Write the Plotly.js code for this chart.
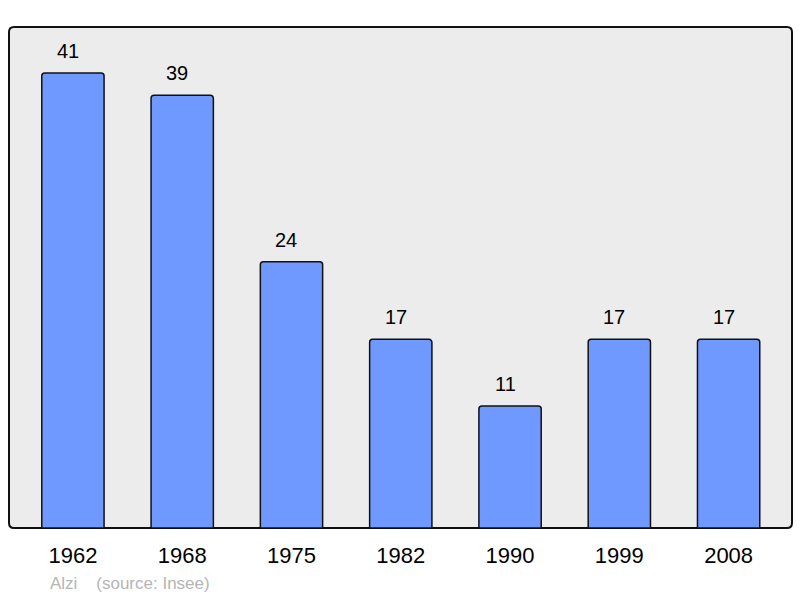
<!DOCTYPE html>
<html><head><meta charset="utf-8">
<script src="https://cdn.plot.ly/plotly-3.0.1.min.js"></script>
<style>body{margin:0;background:#fff}#c{width:800px;height:598px}</style>
</head><body><div id="c"></div>
<script>
const years = ["1962","1968","1975","1982","1990","1999","2008"];
const population = [41,39,24,17,11,17,17];
const footer = "Alzi&nbsp;&nbsp;&nbsp;&nbsp;(source: Insee)";

const trace = {
  type: 'bar', x: years, y: population, width: 0.57,
  marker: {color: '#7099ff', line: {color: '#111', width: 1.5}, cornerradius: 3},
  hoverinfo: 'none'
};
const annotations = years.map((yr, i) => ({
  x: i, y: population[i], xref: 'x', yref: 'y', text: String(population[i]),
  showarrow: false, yanchor: 'bottom', yshift: 9, xshift: -5,
  font: {family: 'Liberation Sans, Arial', size: 20, color: '#000'}
}));
annotations.push({
  xref: 'paper', yref: 'paper', x: 0.05, y: 0, yshift: -55, xanchor: 'left', yanchor: 'middle',
  text: footer, showarrow: false,
  font: {family: 'Liberation Sans, Arial', size: 17, color: '#b5b5b5'}
});
// rounded frame (radius ~5px, plot area 783x501 px)
const rx = 5 / 783, ry = 5 / 501;
const framePath = `M ${rx},0 L ${1 - rx},0 Q 1,0 1,${ry} L 1,${1 - ry} Q 1,1 ${1 - rx},1 ` +
  `L ${rx},1 Q 0,1 0,${1 - ry} L 0,${ry} Q 0,0 ${rx},0 Z`;
const layout = {
  width: 800, height: 598,
  margin: {l: 9, r: 8, t: 27, b: 70},
  paper_bgcolor: '#fff', plot_bgcolor: 'rgba(0,0,0,0)',
  showlegend: false,
  xaxis: {type: 'category', range: [-0.585, 6.58], showgrid: false, zeroline: false,
    ticks: '', ticklabelstandoff: 12, tickfont: {family: 'Liberation Sans, Arial', size: 22, color: '#000'}},
  yaxis: {range: [0, 45.15], showgrid: false, zeroline: false, showticklabels: false, ticks: ''},
  shapes: [{type: 'path', xref: 'paper', yref: 'paper', path: framePath,
    layer: 'below', fillcolor: '#ececec', line: {color: '#111', width: 2}}],
  annotations: annotations
};
Plotly.newPlot('c', [trace], layout, {displayModeBar: false, staticPlot: true});
</script></body></html>
